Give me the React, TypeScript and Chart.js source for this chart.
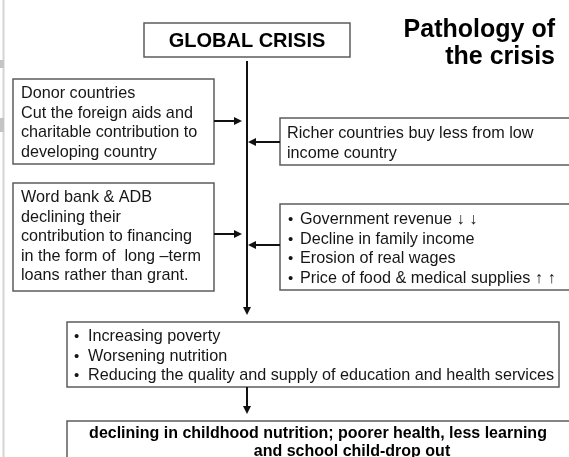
import React, { useEffect, useRef } from "react";
import { Chart, registerables } from "chart.js";

Chart.register(...registerables);

// ---- Content (text data) ----
const titleLines = ["Pathology of", "the crisis"];
const rootLabel = "GLOBAL CRISIS";
const donorLines = [
  "Donor countries",
  "Cut the foreign aids and",
  "charitable contribution to",
  "developing country",
];
const bankLines = [
  "Word bank & ADB",
  "declining their",
  "contribution to financing",
  "in the form of  long \u2013term",
  "loans rather than grant.",
];
const richerLines = ["Richer countries buy less from low", "income country"];
const effectBullets = [
  "Government revenue \u2193 \u2193",
  "Decline in family income",
  "Erosion of real wages",
  "Price of food & medical supplies \u2191 \u2191",
];
const consequenceBullets = [
  "Increasing poverty",
  "Worsening nutrition",
  "Reducing the quality and supply of education and health services",
];
const outcomeLines = [
  "declining in childhood nutrition; poorer health, less learning",
  "and school child-drop out",
];

// ---- Layout (diagram coordinates, mapped through the chart scales) ----
const W = 569;
const H = 457;
const SPINE_X = 247;
const LINE_H = 19.6;

const layout = {
  title: { right: 555, baseline: 37, step: 27 },
  root: { x1: 144, y1: 23, x2: 350, y2: 57, baseline: 47 },
  spine: { top: 61, tip: 315 },
  donor: { x1: 13, y1: 79, x2: 214, y2: 164, tx: 21, baseline: 98, arrowY: 121 },
  bank: { x1: 13, y1: 183, x2: 214, y2: 291, tx: 21, baseline: 202, arrowY: 234 },
  richer: { x1: 280, y1: 118, x2: 600, y2: 165, tx: 287, baseline: 138, arrowY: 142 },
  effects: { x1: 280, y1: 204, x2: 600, y2: 290, bx: 288, tx: 300, baseline: 224, arrowY: 245 },
  cons: { x1: 67, y1: 322, x2: 559, y2: 387, bx: 74, tx: 88, baseline: 341 },
  arrow2: { top: 387, tip: 414 },
  outcome: { x1: 67, y1: 421, x2: 640, y2: 480, centers: [318, 352], baseline: 438 },
};

const FONT = '"Liberation Sans", Arial, Helvetica, sans-serif';
const TEXT_COLOR = "#161616";
const BOX_COLOR = "#5c5c5c";
const BODY_FONT = `16.2px ${FONT}`;

const diagramPlugin = {
  id: "diagram",
  beforeDraw(chart: any) {
    const { ctx } = chart;
    const sx = chart.scales.x;
    const sy = chart.scales.y;
    const X = (v: number) => sx.getPixelForValue(v);
    const Y = (v: number) => sy.getPixelForValue(v);

    ctx.save();
    ctx.fillStyle = "#ffffff";
    ctx.fillRect(0, 0, chart.width, chart.height);

    // left gray stripe (page edge)
    ctx.fillStyle = "#d4d4d4";
    ctx.fillRect(X(2.5), Y(0), 2, Y(H) - Y(0));
    ctx.fillStyle = "#c4c4c4";
    ctx.fillRect(X(0), Y(60), 4, Y(68) - Y(60));
    ctx.fillRect(X(0), Y(118), 4, Y(132) - Y(118));

    const box = (b: any) => {
      ctx.strokeStyle = BOX_COLOR;
      ctx.lineWidth = 1.5;
      ctx.strokeRect(X(b.x1), Y(b.y1), X(b.x2) - X(b.x1), Y(b.y2) - Y(b.y1));
    };

    const arrow = (x1: number, y1: number, x2: number, y2: number) => {
      const px1 = X(x1), py1 = Y(y1), px2 = X(x2), py2 = Y(y2);
      const ang = Math.atan2(py2 - py1, px2 - px1);
      const len = 8, half = 4;
      const bx = px2 - Math.cos(ang) * len;
      const by = py2 - Math.sin(ang) * len;
      ctx.strokeStyle = "#111";
      ctx.lineWidth = 2;
      ctx.beginPath();
      ctx.moveTo(px1, py1);
      ctx.lineTo(bx + Math.cos(ang) * 2, by + Math.sin(ang) * 2);
      ctx.stroke();
      ctx.fillStyle = "#111";
      ctx.beginPath();
      ctx.moveTo(px2, py2);
      ctx.lineTo(bx - Math.sin(ang) * half, by + Math.cos(ang) * half);
      ctx.lineTo(bx + Math.sin(ang) * half, by - Math.cos(ang) * half);
      ctx.closePath();
      ctx.fill();
    };

    const lines = (arr: string[], x: number, baseline: number, font: string, align: CanvasTextAlign = "left") => {
      ctx.font = font;
      ctx.fillStyle = TEXT_COLOR;
      ctx.textAlign = align;
      ctx.textBaseline = "alphabetic";
      arr.forEach((t, i) => ctx.fillText(t, X(x), Y(baseline + i * LINE_H)));
    };

    const bullets = (arr: string[], bx: number, tx: number, baseline: number) => {
      lines(arr.map(() => "\u2022"), bx, baseline, `15px ${FONT}`);
      lines(arr, tx, baseline, BODY_FONT);
    };

    // Title
    ctx.font = `bold 25px ${FONT}`;
    ctx.fillStyle = "#000";
    ctx.textAlign = "right";
    titleLines.forEach((t, i) =>
      ctx.fillText(t, X(layout.title.right), Y(layout.title.baseline + i * layout.title.step))
    );

    // Root box
    const r = layout.root;
    box(r);
    ctx.font = `bold 20px ${FONT}`;
    ctx.fillStyle = "#000";
    ctx.textAlign = "center";
    ctx.fillText(rootLabel, X((r.x1 + r.x2) / 2), Y(r.baseline));

    // Spine
    arrow(SPINE_X, layout.spine.top, SPINE_X, layout.spine.tip);

    // Left causes
    const d = layout.donor;
    box(d);
    lines(donorLines, d.tx, d.baseline, BODY_FONT);
    arrow(d.x2, d.arrowY, SPINE_X - 5, d.arrowY);

    const b = layout.bank;
    box(b);
    lines(bankLines, b.tx, b.baseline, BODY_FONT);
    arrow(b.x2, b.arrowY, SPINE_X - 5, b.arrowY);

    // Right causes
    const rc = layout.richer;
    box(rc);
    lines(richerLines, rc.tx, rc.baseline, BODY_FONT);
    arrow(rc.x1, rc.arrowY, SPINE_X + 1, rc.arrowY);

    const e = layout.effects;
    box(e);
    bullets(effectBullets, e.bx, e.tx, e.baseline);
    arrow(e.x1, e.arrowY, SPINE_X + 1, e.arrowY);

    // Consequences
    const c = layout.cons;
    box(c);
    bullets(consequenceBullets, c.bx, c.tx, c.baseline);
    arrow(SPINE_X, layout.arrow2.top, SPINE_X, layout.arrow2.tip);

    // Outcome
    const o = layout.outcome;
    box(o);
    ctx.font = `bold 16px ${FONT}`;
    ctx.fillStyle = "#000";
    ctx.textAlign = "center";
    outcomeLines.forEach((t, i) => ctx.fillText(t, X(o.centers[i]), Y(o.baseline + i * 18)));

    ctx.restore();
  },
};

export default function App() {
  const ref = useRef<HTMLCanvasElement | null>(null);

  useEffect(() => {
    document.body.style.margin = "0";
    const canvas = ref.current;
    if (!canvas) return;
    const chart = new Chart(canvas, {
      type: "scatter",
      data: { datasets: [{ data: [], pointRadius: 0 }] },
      options: {
        animation: false,
        responsive: false,
        devicePixelRatio: 1,
        layout: { padding: 0 },
        plugins: { legend: { display: false }, tooltip: { enabled: false } },
        scales: {
          x: { type: "linear", min: 0, max: W, display: false },
          y: { type: "linear", min: 0, max: H, reverse: true, display: false },
        },
      },
      plugins: [diagramPlugin],
    });
    return () => chart.destroy();
  }, []);

  return (
    <div style={{ width: W, height: H, overflow: "hidden" }}>
      <canvas ref={ref} width={W} height={H} style={{ display: "block" }} />
    </div>
  );
}
